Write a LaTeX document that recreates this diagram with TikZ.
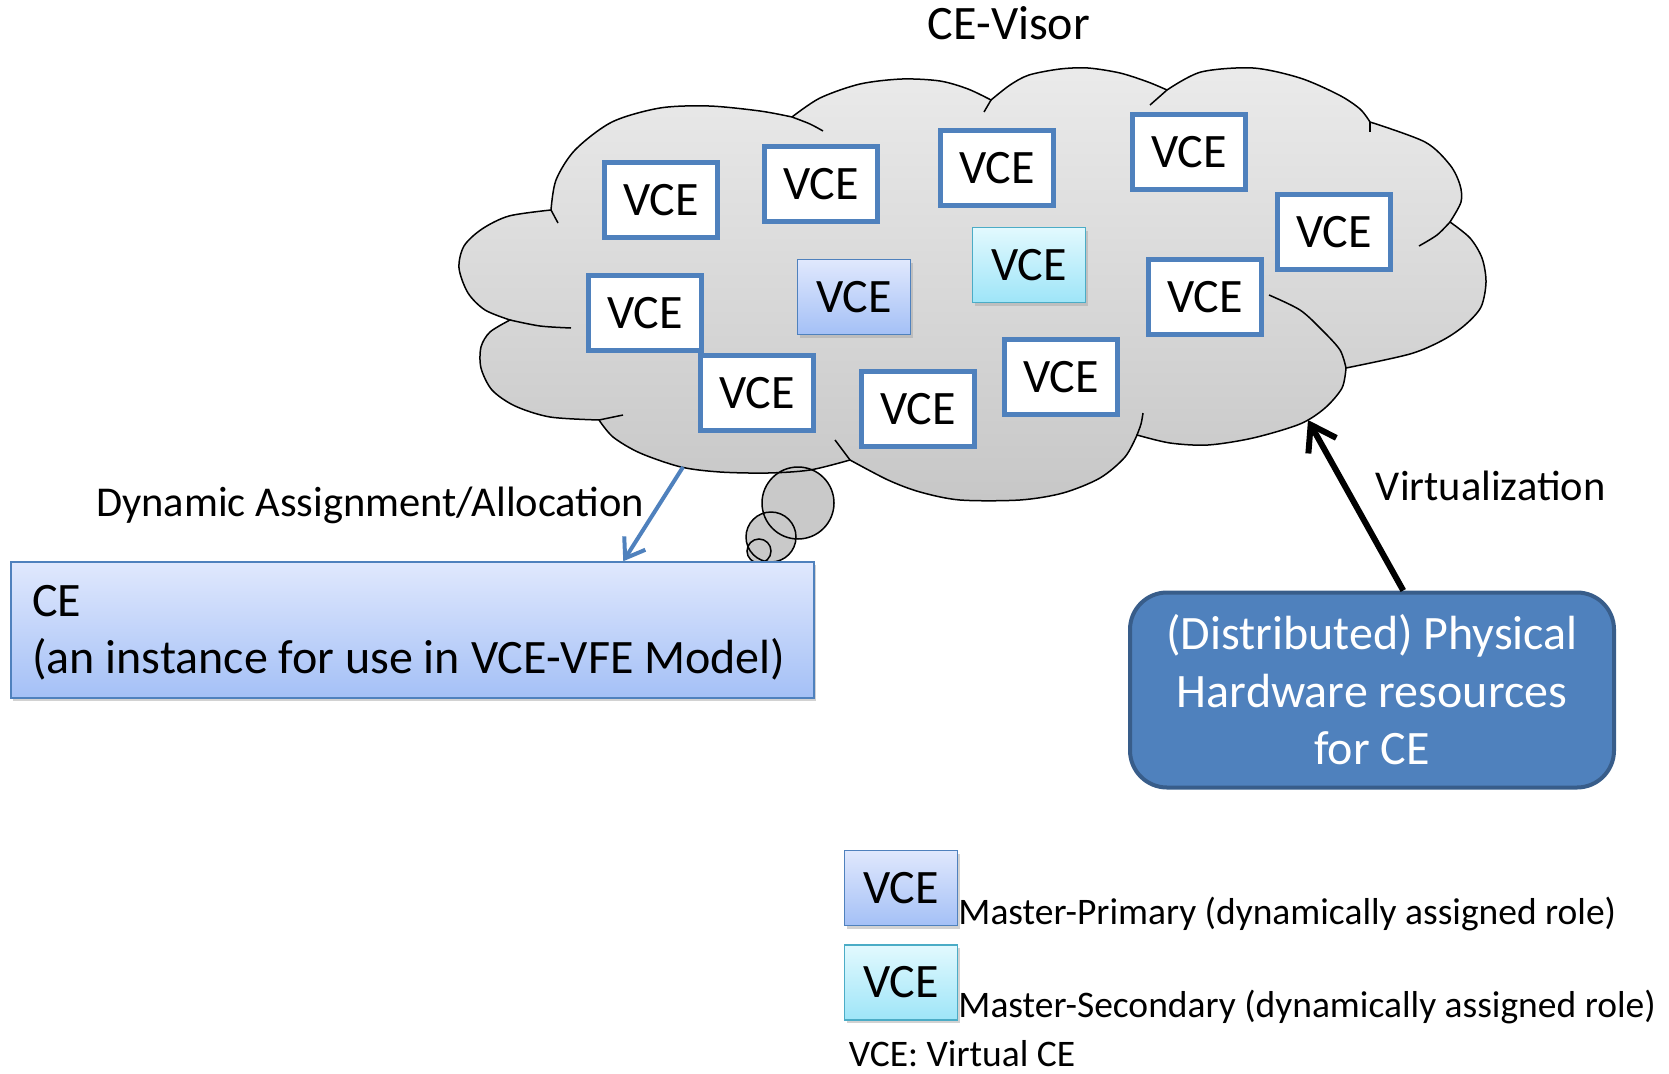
\documentclass[tikz,border=0pt]{standalone}
\usepackage{fontspec}
\setmainfont{Carlito}
\usepackage{tikz}
\usetikzlibrary{arrows.meta,positioning,calc,shadows}
\definecolor{vceblue}{HTML}{4F81BD}
\definecolor{hwedge}{HTML}{385D8A}
\definecolor{cyanedge}{HTML}{4BACC6}

\begin{document}
\begin{tikzpicture}[x=1pt, y=-1pt, >={Straight Barb[length=18pt,width=25pt]}, node distance=18pt]
\tikzstyle{vce}=[draw=vceblue, line width=5pt, fill=white, minimum width=113pt, minimum height=75pt, inner sep=0pt, font=\fontsize{48}{57}\selectfont]
\tikzstyle{primary}=[vce, line width=1.5pt, top color={rgb,255:red,224;green,232;blue,253}, bottom color={rgb,255:red,164;green,192;blue,246}, drop shadow={shadow xshift=2pt, shadow yshift=-3pt, fill=black!35}]
\tikzstyle{secondary}=[primary, draw=cyanedge, top color={rgb,255:red,226;green,249;blue,254}, bottom color={rgb,255:red,158;green,229;blue,248}]
\tikzstyle{cloudline}=[draw, line width=1.5pt]
\tikzstyle{label}=[font=\fontsize{42.5}{50}\selectfont]
\tikzstyle{legend}=[font=\fontsize{37.5}{44}\selectfont, inner sep=0pt]
\useasboundingbox (0,0) rectangle (1669,1073);

\fill[black!21] (798,503) circle[radius=36] (771,537) circle[radius=25] (759,551) circle[radius=12];
\path[cloudline, top color=black!8, bottom color=black!22]
  plot[smooth] coordinates {(551,210) (556,180) (575,150) (612,122) (660,108) (709,106) (760,111) (792,117)}
  -- plot[smooth] coordinates {(792,117) (820,98) (860,84) (902,79) (940,81) (968,89) (991,100)}
  -- plot[smooth] coordinates {(991,100) (1010,85) (1029,75) (1060,69) (1088,68) (1120,73) (1148,82) (1167,90)}
  -- plot[smooth] coordinates {(1167,90) (1201,72) (1253,68) (1300,78) (1339,95) (1360,109) (1370,122)}
  -- plot[smooth] coordinates {(1370,122) (1425,142) (1450,165) (1460,185) (1461,202) (1450,222)}
  -- plot[smooth] coordinates {(1450,222) (1470,238) (1482,258) (1486,282) (1481,307) (1465,325) (1443,340) (1410,354) (1346,368)}
  -- plot[smooth] coordinates {(1346,368) (1342,388) (1325,408) (1300,424) (1253,438) (1208,445) (1170,443) (1137,435)}
  -- plot[smooth] coordinates {(1137,435) (1125,457) (1100,478) (1063,493) (1020,500) (960,500) (920,492) (888,480) (850,460)}
  -- plot[smooth] coordinates {(850,460) (810,470) (768,473) (720,472) (681,467) (640,453) (613,437) (599,420)}
  -- plot[smooth] coordinates {(599,420) (550,417) (515,406) (492,390) (481,368) (481,347) (490,332) (510,320)}
  -- plot[smooth] coordinates {(510,320) (485,310) (468,293) (459,268) (464,246) (482,229) (509,216) (551,210)}
  -- cycle;
\draw[cloudline] plot[smooth] coordinates {(792,117) (810,124) (823,131)};
\draw[cloudline] plot[smooth] coordinates {(991,100) (984,112)};
\draw[cloudline] plot[smooth] coordinates {(1167,90) (1150,105)};
\draw[cloudline] plot[smooth] coordinates {(1370,122) (1370,132)};
\draw[cloudline] plot[smooth] coordinates {(1450,222) (1437,235) (1419,246)};
\draw[cloudline] plot[smooth] coordinates {(1269,295) (1300,310) (1322,330) (1340,350) (1346,368)};
\draw[cloudline] plot[smooth] coordinates {(1137,435) (1141,424) (1143,413)};
\draw[cloudline] plot[smooth] coordinates {(850,460) (835,440)};
\draw[cloudline] plot[smooth] coordinates {(599,420) (623,415)};
\draw[cloudline] plot[smooth] coordinates {(510,320) (540,326) (571,328)};
\draw[cloudline] plot[smooth] coordinates {(551,210) (558,223)};
\draw[cloudline] (798,503) circle[radius=36] (771,537) circle[radius=25] (759,551) circle[radius=12];

\coordinate (assignpt) at (683,467);
\coordinate (virtpt) at (1308,420);
\node[font=\fontsize{48}{57}\selectfont] (title) at (1009,23) {CE-Visor};

\node[vce] (v1) at (661,200) {VCE};
\node[vce] (v2) at (821,184) {VCE};
\node[vce] (v3) at (997,168) {VCE};
\node[vce] (v4) at (1189,152) {VCE};
\node[vce] (v5) at (1334,232) {VCE};
\node[vce] (v6) at (645,313) {VCE};
\node[primary] (vp) at (854,297) {VCE};
\node[secondary] (vs) at (1029,265) {VCE};
\node[vce] (v7) at (1205,297) {VCE};
\node[vce] (v8) at (757,393) {VCE};
\node[vce] (v9) at (918,409) {VCE};
\node[vce] (v10) at (1061,377) {VCE};

\node[primary, minimum width=803pt, minimum height=136pt, text width=761pt, inner xsep=21pt, align=flush left] (ce) at (412.5,630) {\rule{0pt}{37pt}CE\\(an instance for use in VCE-VFE Model)};
\node[draw=hwedge, line width=4pt, fill=vceblue, rounded corners=37pt, minimum width=484pt, minimum height=195pt, text=white, align=center, font=\fontsize{48}{57.5}\selectfont] (hw) at (1372,690) {(Distributed) Physical\\Hardware resources\\for CE};

\path (assignpt) edge[->, draw=vceblue, line width=4pt] node[label, left, pos=0.376, xshift=-11pt, yshift=-3pt] {Dynamic Assignment/Allocation} ($(ce.north west)!0.762!(ce.north east)$);
\path ($(hw.north west)!0.564!(hw.north east)$) edge[->, line width=6pt, >={Straight Barb[length=24pt,width=32pt]}] node[label, right, pos=0.616, xshift=25pt] {Virtualization} (virtpt);

\node[primary] (legprim) at (901,888) {VCE};
\node[secondary, below=of legprim] (legsec) {VCE};
\node[legend, anchor=base west] (primnote) at ([yshift=2pt]legprim.south east) {Master-Primary (dynamically assigned role)};
\node[legend, anchor=base west] (secnote) at ([yshift=3pt]legsec.south east) {Master-Secondary (dynamically assigned role)};
\node[legend, below=19pt of legsec.south west, anchor=north west, xshift=5pt] (vcenote) {VCE: Virtual CE};
\end{tikzpicture}
\end{document}
